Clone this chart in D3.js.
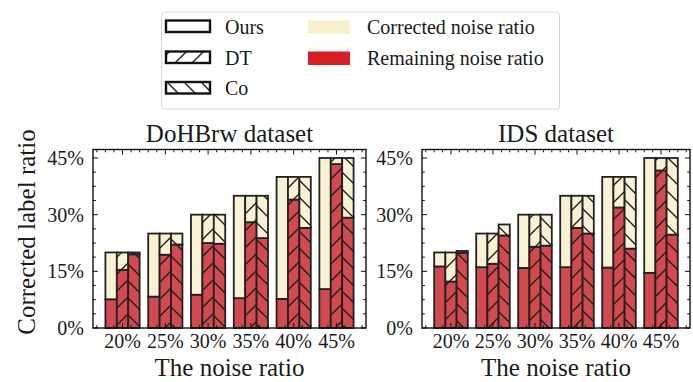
<!DOCTYPE html>
<html><head><meta charset="utf-8">
<script src="https://cdn.jsdelivr.net/npm/d3@7"></script>
<style>html,body{margin:0;padding:0;background:#fff;}svg{display:block;font-family:"Liberation Serif","Times New Roman",serif;}</style>
</head><body>
<svg id="c" width="693" height="382"></svg>
<script>
// ---- data ----
const categories = ["20%", "25%", "30%", "35%", "40%", "45%"];
const methods = ["Ours", "DT", "Co"];
const yTicks = [0, 15, 30, 45];
const totalNoise = [20, 25, 30, 35, 40, 45];

// DoHBrw dataset
const dohOursRemaining = [7.6, 8.3, 8.8, 7.9, 7.7, 10.3];
const dohDTRemaining   = [15.4, 19.4, 22.5, 28.0, 34.0, 43.4];
const dohCoRemaining   = [19.5, 22.1, 22.3, 23.8, 26.5, 29.2];
const dohCoTotal       = [20, 25, 30, 35, 40, 45];

// IDS dataset
const idsOursRemaining = [16.3, 16.1, 15.9, 16.1, 16.0, 14.6];
const idsDTRemaining   = [12.3, 17.0, 21.5, 26.5, 31.9, 41.7];
const idsCoRemaining   = [19.9, 24.5, 21.8, 25.0, 21.0, 24.7];
const idsCoTotal       = [20.4, 27.4, 30, 35, 40, 45];

const panels = [
  {title: "DoHBrw dataset", x0: 93, x1: 366,
   remaining: [dohOursRemaining, dohDTRemaining, dohCoRemaining],
   total: [totalNoise, totalNoise, dohCoTotal]},
  {title: "IDS dataset", x0: 422, x1: 690,
   remaining: [idsOursRemaining, idsDTRemaining, idsCoRemaining],
   total: [totalNoise, totalNoise, idsCoTotal]}
];

// ---- styles ----
const RED = "#d24a50", CREAM = "#f9f1d3";
const LEG_RED = "#d42026", LEG_CREAM = "#f8eec9";
const EDGE = "#222";
const TXT = "#1a1a1a";
const yTop = 149.5, yBot = 328;

const svg = d3.select("#c");
const defs = svg.append("defs");
function hatch(id, dir) {
  const s = 17;
  const p = defs.append("pattern").attr("id", id).attr("patternUnits", "userSpaceOnUse")
    .attr("width", s).attr("height", s);
  const g = p.append("g").attr("stroke", "#1a1a1a").attr("stroke-width", 1.3).attr("fill", "none");
  if (dir === "/") {
    g.append("line").attr("x1", 0).attr("y1", s).attr("x2", s).attr("y2", 0);
    g.append("line").attr("x1", -s).attr("y1", s).attr("x2", s).attr("y2", -s);
    g.append("line").attr("x1", 0).attr("y1", 2*s).attr("x2", 2*s).attr("y2", 0);
  } else {
    g.append("line").attr("x1", 0).attr("y1", 0).attr("x2", s).attr("y2", s);
    g.append("line").attr("x1", -s).attr("y1", 0).attr("x2", s).attr("y2", 2*s);
    g.append("line").attr("x1", 0).attr("y1", -s).attr("x2", 2*s).attr("y2", s);
  }
}
hatch("hDT", "/");
hatch("hCo", "\\");
const hatchFill = [null, "url(#hDT)", "url(#hCo)"];

const barW = 0.8 / 3;
const offsets = [-barW, 0, barW];

panels.forEach((P, pi) => {
  const x = d3.scaleLinear().domain([-0.69, 5.69]).range([P.x0, P.x1]);
  const y = d3.scaleLinear().domain([0, 47.25]).range([yBot, yTop]);
  const g = svg.append("g");

  // bars
  methods.forEach((m, mi) => {
    categories.forEach((c, ci) => {
      const r = P.remaining[mi][ci], t = P.total[mi][ci];
      const cx = ci + offsets[mi];
      const xl = x(cx - barW / 2), w = x(cx + barW / 2) - x(cx - barW / 2);
      // remaining (red)
      g.append("rect").attr("x", xl).attr("y", y(r)).attr("width", w).attr("height", y(0) - y(r))
        .attr("fill", RED);
      if (hatchFill[mi]) g.append("rect").attr("x", xl).attr("y", y(r)).attr("width", w).attr("height", y(0) - y(r))
        .attr("fill", hatchFill[mi]);
      g.append("rect").attr("x", xl).attr("y", y(r)).attr("width", w).attr("height", y(0) - y(r))
        .attr("fill", "none").attr("stroke", EDGE).attr("stroke-width", 1.8);
      // corrected (cream)
      g.append("rect").attr("x", xl).attr("y", y(t)).attr("width", w).attr("height", y(r) - y(t))
        .attr("fill", CREAM);
      if (hatchFill[mi]) g.append("rect").attr("x", xl).attr("y", y(t)).attr("width", w).attr("height", y(r) - y(t))
        .attr("fill", hatchFill[mi]);
      g.append("rect").attr("x", xl).attr("y", y(t)).attr("width", w).attr("height", y(r) - y(t))
        .attr("fill", "none").attr("stroke", EDGE).attr("stroke-width", 1.8);
    });
  });

  // frame
  g.append("rect").attr("x", P.x0).attr("y", yTop).attr("width", P.x1 - P.x0).attr("height", yBot - yTop)
    .attr("fill", "none").attr("stroke", "#111").attr("stroke-width", 1.4);

  // ticks (inward) - y
  const tk = g.append("g").attr("stroke", "#111").attr("stroke-width", 1);
  const yMinor = d3.range(0, 47.25, 3.75);
  yMinor.forEach(v => {
    const major = yTicks.includes(v);
    const L = major ? 5 : 2.8;
    tk.append("line").attr("x1", P.x0).attr("x2", P.x0 + L).attr("y1", y(v)).attr("y2", y(v));
    tk.append("line").attr("x1", P.x1).attr("x2", P.x1 - L).attr("y1", y(v)).attr("y2", y(v));
  });
  // x ticks top & bottom
  const xMinor = d3.range(-0.6, 5.7, 0.2).map(v => Math.round(v * 10) / 10);
  xMinor.forEach(v => {
    const major = Number.isInteger(v);
    const L = major ? 5 : 2.8;
    tk.append("line").attr("x1", x(v)).attr("x2", x(v)).attr("y1", yTop).attr("y2", yTop + L);
    tk.append("line").attr("x1", x(v)).attr("x2", x(v)).attr("y1", yBot).attr("y2", yBot - L);
  });

  // y tick labels
  yTicks.forEach(v => {
    g.append("text").attr("x", P.x0 - 9).attr("y", y(v)).attr("dy", "0.35em")
      .attr("text-anchor", "end").attr("font-size", 20).attr("fill", TXT).text(v + "%");
  });
  // x tick labels
  categories.forEach((c, ci) => {
    g.append("text").attr("x", x(ci)).attr("y", 348).attr("text-anchor", "middle")
      .attr("font-size", 20).attr("fill", TXT).text(c);
  });
  // x label
  g.append("text").attr("x", (P.x0 + P.x1) / 2).attr("y", 376).attr("text-anchor", "middle")
    .attr("font-size", 25).attr("fill", TXT).text("The noise ratio");
  // title
  g.append("text").attr("x", (P.x0 + P.x1) / 2).attr("y", 142).attr("text-anchor", "middle")
    .attr("font-size", 25).attr("fill", TXT).text(P.title);
});

// y label
svg.append("text").attr("transform", "translate(35,232) rotate(-90)").attr("text-anchor", "middle")
  .attr("font-size", 25).attr("fill", TXT).text("Corrected label ratio");

// legend
const lg = svg.append("g");
lg.append("rect").attr("x", 161.5).attr("y", 12).attr("width", 398).attr("height", 97).attr("rx", 3)
  .attr("fill", "#fff").attr("stroke", "#d6d6d6").attr("stroke-width", 1);
const legRows = [20.5, 51.5, 82];
methods.forEach((m, i) => {
  const yy = legRows[i];
  lg.append("rect").attr("x", 166).attr("y", yy).attr("width", 44).attr("height", 11.5).attr("fill", "#fff");
  if (hatchFill[i]) lg.append("rect").attr("x", 166).attr("y", yy).attr("width", 44).attr("height", 11.5)
    .attr("fill", hatchFill[i]);
  lg.append("rect").attr("x", 166).attr("y", yy).attr("width", 44).attr("height", 11.5)
    .attr("fill", "none").attr("stroke", "#111").attr("stroke-width", 2.4);
  lg.append("text").attr("x", 225).attr("y", yy + 6).attr("dy", "0.35em").attr("font-size", 20)
    .attr("fill", TXT).text(m);
});
const swatches = [{label: "Corrected noise ratio", color: LEG_CREAM}, {label: "Remaining noise ratio", color: LEG_RED}];
swatches.forEach((s, i) => {
  const yy = legRows[i];
  lg.append("rect").attr("x", 308).attr("y", yy).attr("width", 42).attr("height", 13.5).attr("fill", s.color);
  lg.append("text").attr("x", 367).attr("y", yy + 6).attr("dy", "0.35em").attr("font-size", 20)
    .attr("fill", TXT).text(s.label);
});
</script>
</body></html>
